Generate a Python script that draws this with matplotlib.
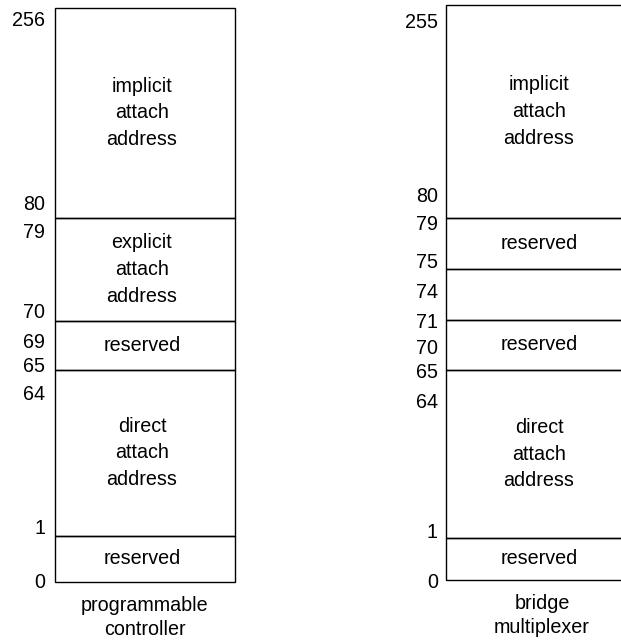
import matplotlib.pyplot as plt
import numpy as np

# адресные области (снизу вверх)
pc_names = ["reserved", "direct\nattach\naddress", "reserved",
            "explicit\nattach\naddress", "implicit\nattach\naddress"]
pc_ticks = ["0", "1", "64", "65", "69", "70", "79", "80", "256"]

bm_names = ["reserved", "direct\nattach\naddress", "reserved", "",
            "reserved", "implicit\nattach\naddress"]
bm_ticks = ["0", "1", "64", "65", "70", "71", "74", "75", "79", "80", "255"]

captions = ["programmable\ncontroller", "bridge\nmultiplexer"]

# разметка (в пикселях): высоты блоков и положение подписей
pc_heights = [46, 166, 49, 103, 210]
bm_heights = [42, 168, 50, 51, 51, 213]
pc_tick_y = [582, 528, 395, 367, 342, 313, 233, 205, 21]
bm_tick_y = [582, 532, 402, 373, 348, 322, 293, 263, 225, 197, 23]

W, H = 621, 641
plt.rcParams['font.family'] = ['Liberation Sans', 'DejaVu Sans']
fig = plt.figure(figsize=(W / 100, H / 100), dpi=100)
ax = fig.add_axes([0, 0, 1, 1])
ax.set_xlim(0, W)
ax.set_ylim(0, H)
ax.axis('off')

FS = 14.2


def column(left, width, base, heights, names, ticks, tick_y, tick_x, caption):
    bottoms = base + np.concatenate([[0], np.cumsum(heights)[:-1]])
    ax.bar(left + width / 2, heights, bottom=bottoms, width=width,
           fill=False, edgecolor='black', linewidth=1.0)
    for b, h, name in zip(bottoms, heights, names):
        ax.text(left + width / 2 - 3, b + h / 2, name, ha='center', va='center',
                fontsize=FS, linespacing=1.5)
    for t, y in zip(ticks, tick_y):
        ax.text(tick_x, H - y, t, ha='right', va='center', fontsize=FS)
    ax.text(left + width / 2, base - 14, caption, ha='center', va='top',
            fontsize=FS, linespacing=1.35)


column(55, 180, H - 582, pc_heights, pc_names, pc_ticks, pc_tick_y, 45, captions[0])
column(446, 192, H - 580, bm_heights, bm_names, bm_ticks, bm_tick_y, 438, captions[1])

fig.savefig("out.png", dpi=100)
